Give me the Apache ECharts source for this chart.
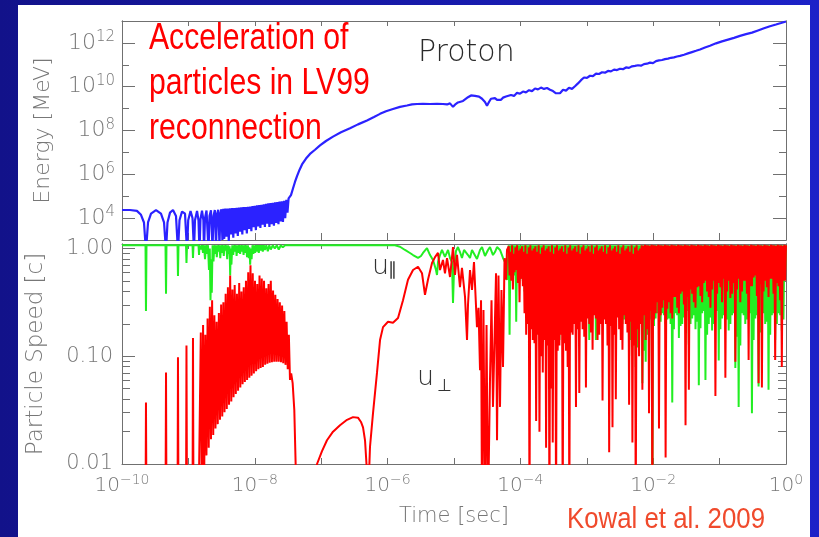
<!DOCTYPE html>
<html><head><meta charset="utf-8">
<script src="https://cdn.jsdelivr.net/npm/echarts@6.0.0/dist/echarts.min.js"></script>
<style>html,body{margin:0;padding:0;background:#fff}#c{width:819px;height:537px}</style>
</head><body><div id="c"></div>
<script>
// ---- tick values ----
const timeTicks = [1e-10,1e-9,1e-8,1e-7,1e-6,1e-5,1e-4,1e-3,1e-2,1e-1,1];
const timeLabelTicks = [1e-10,1e-8,1e-6,1e-4,1e-2,1];
const energyMajor = [1e4,1e6,1e8,1e10,1e12];
const energyMinor = [1e5,1e7,1e9,1e11];
const speedMajor = [0.01,0.1,1];
const speedMinor = [0.02,0.03,0.04,0.05,0.06,0.07,0.08,0.09,0.2,0.3,0.4,0.5,0.6,0.7,0.8,0.9];

// ---- data: [log10(time/s), log10(value)] ----
// proton energy [MeV]
const energyLog = [
[-10.000,4.37],[-9.880,4.37],[-9.775,4.33],[-9.714,4.15],[-9.669,3.80],[-9.639,2.50],[-9.608,3.80],[-9.563,4.20],[-9.488,4.36],[-9.413,4.20],[-9.367,3.80],[-9.337,2.50],[-9.315,3.80],[-9.277,4.25],[-9.232,4.37],[-9.187,4.10],[-9.157,2.50],[-9.134,3.90],[-9.096,4.30],[-9.051,4.20],[-9.021,2.50],[-9.003,3.90],[-8.968,4.32],[-8.938,4.00],[-8.916,2.50],[-8.901,3.90],[-8.870,4.33],[-8.848,3.90],[-8.833,2.50],[-8.818,3.95],[-8.795,4.34],[-8.774,3.90],[-8.765,2.50],[-8.750,4.00],[-8.727,4.35],[-8.697,2.50],[-8.682,4.10],[-8.660,4.36],[-8.637,2.60],[-8.622,4.10],[-8.602,4.37],[-8.584,2.70],[-8.569,4.20],[-8.550,4.38],[-8.532,2.80],[-8.518,4.20],[-8.503,4.40],[-8.488,3.00],[-8.473,4.42],
[-8.460,3.05],[-8.443,4.44],[-8.426,3.15],[-8.409,4.44],[-8.392,2.95],[-8.375,4.45],[-8.358,3.25],[-8.341,4.46],[-8.324,3.10],[-8.307,4.46],[-8.290,3.30],[-8.273,4.47],[-8.256,3.18],[-8.239,4.48],[-8.222,3.38],[-8.205,4.49],[-8.188,3.25],[-8.171,4.50],[-8.154,3.45],[-8.137,4.51],[-8.120,3.30],[-8.103,4.52],[-8.086,3.50],[-8.069,4.53],[-8.052,3.40],[-8.035,4.55],[-8.018,3.58],[-8.001,4.56],[-7.984,3.45],[-7.967,4.58],[-7.950,3.62],[-7.933,4.59],[-7.916,3.55],[-7.899,4.61],[-7.882,3.70],[-7.865,4.63],[-7.848,3.60],[-7.831,4.65],[-7.814,3.75],[-7.797,4.67],[-7.780,3.60],[-7.763,4.69],[-7.746,3.72],[-7.729,4.70],[-7.712,3.65],[-7.695,4.72],[-7.678,3.78],[-7.661,4.73],[-7.644,3.72],[-7.627,4.75],[-7.610,3.85],[-7.593,4.77],[-7.576,3.82],[-7.559,4.79],[-7.542,4.00],[-7.525,4.83],[-7.508,4.25],[-7.491,4.90],
[-7.470,4.95],[-7.455,5.05],[-7.425,5.35],[-7.395,5.65],[-7.364,5.92],[-7.327,6.20],[-7.289,6.45],[-7.229,6.72],[-7.169,6.93],[-7.093,7.12],[-7.018,7.32],[-6.928,7.52],[-6.822,7.72],[-6.702,7.92],[-6.566,8.10],[-6.446,8.28],[-6.310,8.46],[-6.205,8.62],[-6.114,8.76],[-6.024,8.88],[-5.919,8.98],[-5.813,9.08],[-5.708,9.14],[-5.633,9.19],[-5.557,9.21],[-5.467,9.22],[-5.361,9.21],[-5.256,9.22],[-5.166,9.21],[-5.105,9.19],[-5.060,9.24],[-5.015,9.08],[-4.985,9.18],[-4.940,9.28],[-4.864,9.35],[-4.789,9.52],[-4.744,9.60],[-4.684,9.58],[-4.623,9.55],[-4.578,9.45],[-4.533,9.30],[-4.503,9.13],[-4.473,9.30],[-4.443,9.45],[-4.413,9.38],[-4.383,9.48],[-4.352,9.40],[-4.322,9.44],[-4.292,9.40],
[-4.262,9.50],[-4.217,9.55],[-4.187,9.50],[-4.142,9.62],[-4.096,9.58],[-4.051,9.72],[-4.006,9.68],[-3.961,9.78],[-3.916,9.74],[-3.870,9.84],[-3.825,9.80],[-3.780,9.92],[-3.735,9.88],[-3.690,9.96],[-3.645,9.90],[-3.599,9.94],[-3.554,9.86],[-3.509,9.80],[-3.464,9.70],[-3.434,9.76],[-3.404,9.70],[-3.358,9.86],[-3.313,9.82],[-3.268,9.95],[-3.223,9.90],[-3.178,10.02],[-3.133,10.15],[-3.087,10.30],[-3.042,10.42],[-2.997,10.40],[-2.952,10.50],[-2.907,10.48],[-2.861,10.60],[-2.816,10.58],[-2.771,10.66],[-2.726,10.64],[-2.681,10.72],[-2.636,10.70],[-2.590,10.78],[-2.545,10.76],[-2.500,10.82],[-2.455,10.80],[-2.410,10.88],[-2.364,10.86],[-2.319,10.93],[-2.274,10.95],[-2.229,10.98],[-2.184,10.96],[-2.139,11.03],[-2.093,11.05],[-2.048,11.10],[-2.003,11.08],[-1.958,11.17],[-1.913,11.20],[-1.867,11.22],[-1.822,11.26],[-1.777,11.28],[-1.732,11.32],[-1.687,11.34],[-1.642,11.38],[-1.596,11.41],[-1.536,11.46],[-1.476,11.52],[-1.416,11.58],[-1.355,11.64],[-1.295,11.70],[-1.220,11.79],[-1.145,11.87],[-1.054,11.98],[-0.964,12.07],[-0.873,12.15],[-0.783,12.23],[-0.693,12.32],[-0.602,12.40],[-0.512,12.47],[-0.422,12.57],[-0.331,12.67],[-0.241,12.76],[-0.151,12.84],[-0.075,12.91],[0.000,12.98]
];

// parallel speed u_par [c]
const uParLog = [
[-10.000,0.03],[-9.646,0.03],[-9.639,-0.58],[-9.631,0.03],[-9.345,0.03],[-9.337,-0.42],[-9.330,0.03],[-9.164,0.03],[-9.157,-0.255],[-9.149,0.03],[-9.036,0.03],[-9.029,-0.135],[-9.021,0.03],[-8.938,0.03],[-8.931,-0.088],[-8.923,0.03],[-8.848,0.03],[-8.840,-0.06],[-8.833,0.03],
[-8.810,-0.01],[-8.795,0.03],[-8.780,-0.04],[-8.765,0.03],[-8.750,-0.10],[-8.735,0.03],[-8.720,-0.05],[-8.705,0.03],[-8.690,-0.20],[-8.678,0.00],[-8.667,-0.48],[-8.657,-0.10],[-8.648,-0.41],[-8.636,0.03],[-8.622,-0.12],[-8.610,0.03],[-8.596,-0.05],[-8.584,0.03],[-8.572,-0.08],[-8.559,0.03],[-8.545,-0.03],[-8.533,0.03],[-8.520,-0.09],[-8.506,0.03],[-8.494,-0.04],[-8.480,0.03],[-8.467,-0.07],[-8.455,0.03],[-8.441,-0.02],[-8.428,0.03],[-8.416,-0.10],[-8.402,0.03],[-8.389,-0.05],[-8.380,0.02],[-8.371,-0.25],[-8.362,0.00],[-8.352,-0.15],[-8.339,0.03],[-8.325,-0.06],[-8.313,0.03],[-8.300,-0.03],[-8.286,0.03],[-8.274,-0.07],[-8.261,0.03],[-8.247,-0.04],[-8.235,0.03],[-8.221,-0.05],[-8.208,0.03],[-8.196,-0.03],[-8.182,0.03],[-8.169,-0.06],[-8.157,0.03],[-8.143,-0.04],[-8.130,0.03],[-8.117,-0.08],[-8.104,0.03],[-8.091,-0.09],[-8.080,0.01],[-8.070,-0.15],[-8.059,0.00],[-8.048,-0.10],[-8.035,0.03],[-8.021,-0.05],[-8.009,0.03],[-7.995,-0.04],[-7.982,0.03],[-7.969,-0.03],[-7.955,0.03],[-7.940,-0.04],[-7.925,0.03],[-7.910,-0.02],[-7.895,0.03],[-7.880,-0.03],[-7.864,0.03],[-7.849,-0.015],[-7.827,0.03],[-7.804,-0.025],[-7.782,0.03],[-7.759,-0.01],[-7.729,0.03],[-7.699,0.00],[-7.669,0.03],[-7.639,-0.01],[-7.608,0.03],[-7.578,0.01],[-7.545,0.03],[-7.515,0.015],[-7.470,0.03],
[-5.889,0.03],
[-5.813,0.016],[-5.738,-0.014],[-5.663,-0.042],[-5.617,-0.061],[-5.542,-0.088],[-5.497,-0.07],[-5.467,-0.042],[-5.407,0.004],[-5.361,-0.061],[-5.316,-0.107],[-5.271,-0.20],[-5.256,-0.246],[-5.241,-0.126],[-5.211,-0.061],[-5.181,-0.014],[-5.136,-0.079],[-5.090,-0.014],[-5.060,-0.088],[-5.030,-0.126],[-5.015,-0.506],[-5.000,-0.20],[-4.970,-0.023],[-4.940,0.013],[-4.910,-0.033],[-4.880,-0.088],[-4.849,-0.014],[-4.834,0.004],[-4.789,-0.061],[-4.759,-0.088],[-4.729,-0.014],[-4.699,0.004],[-4.654,-0.098],[-4.608,-0.014],[-4.578,0.013],[-4.533,-0.07],[-4.488,-0.014],[-4.458,0.013],[-4.413,-0.061],[-4.383,-0.033],[-4.352,0.013],[-4.307,-0.014],[-4.262,-0.088],[-4.232,-0.126],[-4.202,-0.293],
[-4.175,0.03],[-4.163,-0.80],[-4.150,0.03],[-4.138,-0.20],[-4.125,0.03],[-4.113,-0.15],[-4.100,0.03],[-4.088,-0.25],
[-4.075,0.03],[-4.063,-0.68],[-4.050,0.03],[-4.038,-0.18],[-4.025,0.03],[-4.013,-0.20],[-4.000,0.03],[-3.988,-0.28],
[-3.975,0.03],[-3.963,-0.30],[-3.950,0.03],[-3.938,-0.40],[-3.925,0.03],[-3.913,-0.45],[-3.900,0.03],[-3.888,-0.50],
[-3.875,0.03],[-3.863,-0.35],[-3.850,0.03],[-3.838,-0.45],[-3.825,0.03],[-3.813,-0.50],[-3.800,0.03],[-3.788,-0.55],
[-3.775,0.03],[-3.763,-0.40],[-3.750,0.03],[-3.738,-0.48],[-3.725,0.03],[-3.713,-0.55],[-3.700,0.03],[-3.688,-0.52],
[-3.675,0.03],[-3.663,-0.45],[-3.650,0.03],[-3.638,-0.58],[-3.625,0.03],[-3.613,-0.60],[-3.600,0.03],[-3.588,-0.50],
[-3.575,0.03],[-3.563,-0.50],[-3.550,0.03],[-3.538,-0.62],[-3.525,0.03],[-3.513,-0.55],[-3.500,0.03],[-3.488,-0.55],
[-3.475,0.03],[-3.463,-0.70],[-3.450,0.03],[-3.438,-0.65],[-3.425,0.03],[-3.413,-0.85],[-3.400,0.03],[-3.388,-0.72],
[-3.375,0.03],[-3.363,-0.75],[-3.350,0.03],[-3.338,-0.80],[-3.325,0.03],[-3.313,-0.88],[-3.300,0.03],[-3.288,-0.70],
[-3.275,0.03],[-3.263,-0.94],[-3.250,0.03],[-3.238,-0.66],[-3.225,0.03],[-3.213,-0.60],[-3.200,0.03],[-3.188,-0.55],
[-3.175,0.03],[-3.163,-0.50],[-3.150,0.03],[-3.138,-0.58],[-3.125,0.03],[-3.113,-0.55],[-3.100,0.03],[-3.088,-0.52],
[-3.075,0.03],[-3.063,-0.60],[-3.050,0.03],[-3.038,-0.62],[-3.025,0.03],[-3.013,-0.50],[-3.000,0.03],[-2.988,-0.56],
[-2.975,0.03],[-2.963,-0.85],[-2.950,0.03],[-2.938,-0.70],[-2.925,0.03],[-2.913,-0.55],[-2.900,0.03],[-2.888,-0.60],
[-2.875,0.03],[-2.863,-0.85],[-2.850,0.03],[-2.838,-0.72],[-2.825,0.03],[-2.813,-0.50],[-2.800,0.03],[-2.788,-0.55],
[-2.775,0.03],[-2.763,-0.60],[-2.750,0.03],[-2.738,-0.62],[-2.725,0.03],[-2.713,-0.55],[-2.700,0.03],[-2.688,-0.58],
[-2.675,0.03],[-2.663,-0.65],[-2.650,0.03],[-2.638,-0.60],[-2.625,0.03],[-2.613,-0.50],[-2.600,0.03],[-2.588,-0.55],
[-2.575,0.03],[-2.563,-0.60],[-2.550,0.03],[-2.538,-0.62],[-2.525,0.03],[-2.513,-0.55],[-2.500,0.03],[-2.488,-0.58],
[-2.475,0.03],[-2.463,-0.70],[-2.450,0.03],[-2.438,-0.66],[-2.425,0.03],[-2.413,-0.60],[-2.400,0.03],[-2.388,-0.62],
[-2.375,0.03],[-2.363,-1.00],[-2.350,0.03],[-2.338,-0.85],[-2.325,0.03],[-2.313,-0.90],[-2.300,0.03],[-2.288,-0.78],
[-2.275,0.03],[-2.263,-1.10],[-2.250,0.03],[-2.238,-0.92],[-2.225,0.03],[-2.213,-0.80],[-2.200,0.03],[-2.188,-0.70],
[-2.175,0.03],[-2.163,-1.25],[-2.150,0.03],[-2.138,-0.95],[-2.125,0.03],[-2.113,-1.05],[-2.100,0.03],[-2.088,-0.80],
[-2.075,0.03],[-2.063,-0.70],[-2.050,0.03],[-2.038,-0.66],[-2.025,0.03],[-2.013,-2.50],[-2.000,0.03],[-1.988,-0.72],
[-1.975,0.03],[-1.963,-0.65],[-1.950,0.03],[-1.938,-0.60],[-1.925,0.03],[-1.913,-0.75],[-1.900,0.03],[-1.888,-0.68],
[-1.875,0.03],[-1.863,-0.60],[-1.850,0.03],[-1.838,-0.62],[-1.825,0.03],[-1.813,-0.70],[-1.800,0.03],[-1.788,-0.66],
[-1.775,0.03],[-1.763,-0.65],[-1.750,0.03],[-1.738,-0.70],[-1.725,0.03],[-1.713,-1.43],[-1.700,0.03],[-1.688,-0.75],
[-1.675,0.03],[-1.663,-0.60],[-1.650,0.03],[-1.638,-0.62],[-1.625,0.03],[-1.613,-0.83],[-1.600,0.03],[-1.588,-0.72],
[-1.575,0.03],[-1.563,-0.70],[-1.550,0.03],[-1.538,-0.64],[-1.525,0.03],[-1.513,-0.60],[-1.500,0.03],[-1.488,-0.58],
[-1.475,0.03],[-1.463,-0.89],[-1.450,0.03],[-1.438,-0.70],[-1.425,0.03],[-1.413,-0.65],[-1.400,0.03],[-1.388,-0.62],
[-1.375,0.03],[-1.363,-0.75],[-1.350,0.03],[-1.338,-0.68],[-1.325,0.03],[-1.313,-1.27],[-1.300,0.03],[-1.288,-0.74],
[-1.275,0.03],[-1.263,-0.60],[-1.250,0.03],[-1.238,-0.58],[-1.225,0.03],[-1.213,-1.22],[-1.200,0.03],[-1.188,-0.80],
[-1.175,0.03],[-1.163,-0.70],[-1.150,0.03],[-1.138,-0.64],[-1.125,0.03],[-1.113,-0.76],[-1.100,0.03],[-1.088,-0.70],
[-1.075,0.03],[-1.063,-0.55],[-1.050,0.03],[-1.038,-0.58],[-1.025,0.03],[-1.013,-1.04],[-1.000,0.03],[-0.988,-0.75],
[-0.975,0.03],[-0.963,-0.65],[-0.950,0.03],[-0.938,-0.62],[-0.925,0.03],[-0.913,-0.60],[-0.900,0.03],[-0.888,-0.66],
[-0.875,0.03],[-0.863,-0.76],[-0.850,0.03],[-0.838,-0.70],[-0.825,0.03],[-0.813,-0.62],[-0.800,0.03],[-0.788,-0.60],
[-0.775,0.03],[-0.763,-1.11],[-0.750,0.03],[-0.738,-0.82],[-0.725,0.03],[-0.713,-1.47],[-0.700,0.03],[-0.688,-0.90],
[-0.675,0.03],[-0.663,-0.60],[-0.650,0.03],[-0.638,-0.62],[-0.625,0.03],[-0.613,-0.70],[-0.600,0.03],[-0.588,-0.66],
[-0.575,0.03],[-0.563,-0.55],[-0.550,0.03],[-0.538,-0.60],[-0.525,0.03],[-0.513,-1.53],[-0.500,0.03],[-0.488,-0.85],
[-0.475,0.03],[-0.463,-0.65],[-0.450,0.03],[-0.438,-0.62],[-0.425,0.03],[-0.413,-1.28],[-0.400,0.03],[-0.388,-0.78],
[-0.375,0.03],[-0.363,-0.60],[-0.350,0.03],[-0.338,-0.60],[-0.325,0.03],[-0.313,-0.70],[-0.300,0.03],[-0.288,-0.68],
[-0.275,0.03],[-0.263,-1.31],[-0.250,0.03],[-0.238,-0.80],[-0.225,0.03],[-0.213,-0.62],[-0.200,0.03],[-0.188,-0.60],
[-0.175,0.03],[-0.163,-0.85],[-0.150,0.03],[-0.138,-0.70],[-0.125,0.03],[-0.113,-0.60],[-0.100,0.03],[-0.088,-0.62],
[-0.075,0.03],[-0.063,-0.76],[-0.050,0.03],[-0.038,-0.66],[-0.025,0.03],[-0.013,-0.20],[0.000,0.03]
];

// perpendicular speed u_perp [c]
const uPerpLog = [
[-10.000,-2.5],[-9.646,-2.5],[-9.639,-1.43],[-9.631,-2.5],[-9.345,-2.5],[-9.337,-1.15],[-9.330,-2.5],[-9.164,-2.5],[-9.157,-1.01],[-9.149,-2.5],[-9.036,-2.5],[-9.029,-0.90],[-9.021,-2.5],[-8.938,-2.5],[-8.931,-0.83],[-8.923,-2.5],[-8.848,-2.5],
[-8.830,-2.5],[-8.813,-0.78],[-8.796,-2.5],[-8.779,-0.71],[-8.762,-2.1],[-8.745,-0.80],[-8.728,-1.92],[-8.711,-0.65],[-8.694,-1.85],[-8.677,-0.54],[-8.660,-1.77],[-8.643,-0.48],[-8.626,-1.73],[-8.609,-0.62],[-8.592,-1.67],[-8.575,-0.68],[-8.558,-1.63],[-8.541,-0.60],[-8.524,-1.59],[-8.507,-0.52],[-8.490,-1.56],[-8.473,-0.50],[-8.456,-1.52],[-8.439,-0.42],[-8.422,-1.49],[-8.405,-0.36],[-8.388,-1.45],[-8.371,-0.25],[-8.354,-1.42],[-8.337,-0.38],[-8.320,-1.38],[-8.303,-0.34],[-8.286,-1.35],[-8.269,-0.42],[-8.252,-1.32],[-8.235,-0.32],[-8.218,-1.29],[-8.201,-0.40],[-8.184,-1.26],[-8.167,-0.36],[-8.150,-1.24],[-8.133,-0.30],[-8.116,-1.22],[-8.099,-0.22],[-8.082,-1.20],[-8.065,-0.155],[-8.048,-1.18],[-8.031,-0.23],[-8.014,-1.16],[-7.997,-0.30],[-7.980,-1.14],[-7.963,-0.33],[-7.946,-1.12],[-7.929,-0.25],[-7.912,-1.11],[-7.895,-0.28],[-7.878,-1.10],[-7.861,-0.30],[-7.844,-1.08],[-7.827,-0.37],[-7.810,-1.07],[-7.793,-0.33],[-7.776,-1.06],[-7.759,-0.30],[-7.742,-1.055],[-7.725,-0.39],[-7.708,-1.05],[-7.691,-0.43],[-7.674,-1.05],[-7.657,-0.47],[-7.640,-1.05],[-7.623,-0.50],[-7.606,-1.055],[-7.589,-0.53],[-7.572,-1.065],[-7.555,-0.58],[-7.538,-1.08],[-7.521,-0.68],[-7.504,-1.12],[-7.487,-0.80],
[-7.470,-1.22],[-7.452,-1.16],[-7.430,-1.25],[-7.405,-1.50],[-7.385,-2.0],[-7.370,-2.5],
[-7.139,-2.5],[-7.063,-2.0],[-6.988,-1.88],[-6.913,-1.78],[-6.822,-1.70],[-6.717,-1.64],[-6.611,-1.59],[-6.521,-1.565],[-6.446,-1.57],[-6.401,-1.61],[-6.370,-1.66],[-6.340,-1.78],[-6.318,-2.0],[-6.303,-2.5],
[-6.265,-1.84],[-6.220,-1.53],[-6.160,-1.155],[-6.114,-0.85],[-6.069,-0.73],[-5.994,-0.68],[-5.919,-0.69],[-5.843,-0.645],[-5.768,-0.48],[-5.693,-0.29],[-5.617,-0.20],[-5.542,-0.17],[-5.482,-0.23],[-5.437,-0.43],[-5.392,-0.29],[-5.331,-0.135],[-5.286,-0.08],[-5.241,-0.04],[-5.211,-0.20],[-5.166,-0.107],[-5.136,-0.23],[-5.105,-0.09],[-5.060,-0.265],[-5.015,0.013],[-4.985,-0.246],[-4.955,-0.06],[-4.910,-0.36],[-4.880,-0.18],[-4.834,-0.45],[-4.804,-0.85],[-4.789,-0.52],[-4.759,-0.20],[-4.729,-0.385],[-4.699,-0.126],[-4.654,-0.73],[-4.631,-0.55],[-4.608,-1.13],[-4.593,-0.48],[-4.578,-2.5],[-4.556,-0.57],[-4.533,-2.5],[-4.510,-0.71],[-4.488,-2.5],[-4.458,-1.22],[-4.435,-0.48],[-4.413,-1.47],[-4.390,-0.85],[-4.367,-0.23],[-4.352,-1.78],[-4.330,-0.25],[-4.307,-1.47],[-4.285,-0.385],[-4.262,-1.10],[-4.239,-0.09],[-4.217,-0.29],[-4.202,-0.014],
[-4.175,0.02],[-4.163,-0.25],[-4.150,-0.03],[-4.138,-0.30],[-4.125,0.03],[-4.113,-0.38],[-4.100,-0.05],[-4.088,-0.22],
[-4.075,0.01],[-4.063,-0.20],[-4.050,0.03],[-4.038,-0.32],[-4.025,-0.02],[-4.013,-0.50],[-4.000,0.00],[-3.988,-0.28],
[-3.975,0.02],[-3.963,-0.35],[-3.950,-0.03],[-3.938,-0.60],[-3.925,0.03],[-3.913,-0.80],[-3.900,-0.05],[-3.888,-0.70],
[-3.875,0.01],[-3.863,-2.50],[-3.850,0.03],[-3.838,-0.75],[-3.825,-0.02],[-3.813,-0.85],[-3.800,0.00],[-3.788,-0.88],
[-3.775,0.02],[-3.763,-1.60],[-3.750,-0.03],[-3.738,-0.80],[-3.725,0.03],[-3.713,-1.70],[-3.700,-0.05],[-3.688,-1.00],
[-3.675,0.01],[-3.663,-1.15],[-3.650,0.03],[-3.638,-0.85],[-3.625,-0.02],[-3.613,-1.85],[-3.600,0.00],[-3.588,-0.90],
[-3.575,0.02],[-3.563,-2.50],[-3.550,-0.03],[-3.538,-1.30],[-3.525,0.03],[-3.513,-1.80],[-3.500,-0.05],[-3.488,-0.85],
[-3.475,0.01],[-3.463,-2.50],[-3.450,0.03],[-3.438,-0.95],[-3.425,-0.02],[-3.413,-0.90],[-3.400,0.00],[-3.388,-0.80],
[-3.375,0.02],[-3.363,-2.50],[-3.350,-0.03],[-3.338,-0.88],[-3.325,0.03],[-3.313,-0.95],[-3.300,-0.05],[-3.288,-1.10],
[-3.275,0.01],[-3.263,-2.50],[-3.250,0.03],[-3.238,-0.78],[-3.225,-0.02],[-3.213,-0.80],[-3.200,0.00],[-3.188,-0.70],
[-3.175,0.02],[-3.163,-1.47],[-3.150,-0.03],[-3.138,-0.75],[-3.125,0.03],[-3.113,-1.34],[-3.100,-0.05],[-3.088,-0.68],
[-3.075,0.01],[-3.063,-0.75],[-3.050,0.03],[-3.038,-0.82],[-3.025,-0.02],[-3.013,-1.29],[-3.000,0.00],[-2.988,-0.65],
[-2.975,0.02],[-2.963,-0.70],[-2.950,-0.03],[-2.938,-0.78],[-2.925,0.03],[-2.913,-0.94],[-2.900,-0.05],[-2.888,-0.62],
[-2.875,0.01],[-2.863,-0.65],[-2.850,0.03],[-2.838,-0.85],[-2.825,-0.02],[-2.813,-0.80],[-2.800,0.00],[-2.788,-0.70],
[-2.775,0.02],[-2.763,-1.41],[-2.750,-0.03],[-2.738,-0.66],[-2.725,0.03],[-2.713,-0.70],[-2.700,-0.05],[-2.688,-0.90],
[-2.675,0.01],[-2.663,-1.89],[-2.650,0.03],[-2.638,-0.72],[-2.625,-0.02],[-2.613,-1.66],[-2.600,0.00],[-2.588,-0.80],
[-2.575,0.02],[-2.563,-1.40],[-2.550,-0.03],[-2.538,-0.64],[-2.525,0.03],[-2.513,-0.75],[-2.500,-0.05],[-2.488,-0.85],
[-2.475,0.01],[-2.463,-0.94],[-2.450,0.03],[-2.438,-0.62],[-2.425,-0.02],[-2.413,-0.70],[-2.400,0.00],[-2.388,-0.78],
[-2.375,0.02],[-2.363,-1.45],[-2.350,-0.03],[-2.338,-0.68],[-2.325,0.03],[-2.313,-1.80],[-2.300,-0.05],[-2.288,-0.90],
[-2.275,0.01],[-2.263,-2.50],[-2.250,0.03],[-2.238,-0.75],[-2.225,-0.02],[-2.213,-1.00],[-2.200,0.00],[-2.188,-0.70],
[-2.175,0.03],[-2.163,-1.31],[-2.150,0.025],[-2.138,-0.62],[-2.125,0.035],[-2.113,-0.85],[-2.100,0.03],[-2.088,-0.75],
[-2.075,0.03],[-2.063,-1.53],[-2.050,0.025],[-2.038,-0.58],[-2.025,0.035],[-2.013,-2.50],[-2.000,0.03],[-1.988,-0.66],
[-1.975,0.03],[-1.963,-0.60],[-1.950,0.025],[-1.938,-0.50],[-1.925,0.035],[-1.913,-1.67],[-1.900,0.03],[-1.888,-0.62],
[-1.875,0.03],[-1.863,-0.55],[-1.850,0.025],[-1.838,-0.48],[-1.825,0.035],[-1.813,-1.94],[-1.800,0.03],[-1.788,-0.56],
[-1.775,0.03],[-1.763,-0.50],[-1.750,0.025],[-1.738,-0.60],[-1.725,0.035],[-1.713,-0.65],[-1.700,0.03],[-1.688,-0.45],
[-1.675,0.03],[-1.663,-0.45],[-1.650,0.025],[-1.638,-0.55],[-1.625,0.035],[-1.613,-0.60],[-1.600,0.03],[-1.588,-0.42],
[-1.575,0.03],[-1.563,-0.40],[-1.550,0.025],[-1.538,-0.52],[-1.525,0.035],[-1.513,-1.64],[-1.500,0.03],[-1.488,-0.45],
[-1.475,0.03],[-1.463,-1.31],[-1.450,0.025],[-1.438,-0.38],[-1.425,0.035],[-1.413,-0.42],[-1.400,0.03],[-1.388,-0.50],
[-1.375,0.03],[-1.363,-0.55],[-1.350,0.025],[-1.338,-0.36],[-1.325,0.035],[-1.313,-0.35],[-1.300,0.03],[-1.288,-0.44],
[-1.275,0.03],[-1.263,-0.50],[-1.250,0.025],[-1.238,-0.32],[-1.225,0.035],[-1.213,-0.30],[-1.200,0.03],[-1.188,-0.40],
[-1.175,0.03],[-1.163,-0.45],[-1.150,0.025],[-1.138,-0.55],[-1.125,0.035],[-1.113,-0.38],[-1.100,0.03],[-1.088,-0.30],
[-1.075,0.03],[-1.063,-1.37],[-1.050,0.025],[-1.038,-0.42],[-1.025,0.035],[-1.013,-0.32],[-1.000,0.03],[-0.988,-0.36],
[-0.975,0.03],[-0.963,-0.50],[-0.950,0.025],[-0.938,-0.28],[-0.925,0.035],[-0.913,-1.20],[-0.900,0.03],[-0.888,-0.40],
[-0.875,0.03],[-0.863,-0.30],[-0.850,0.025],[-0.838,-0.46],[-0.825,0.035],[-0.813,-0.42],[-0.800,0.03],[-0.788,-0.32],
[-0.775,0.03],[-0.763,-1.05],[-0.750,0.025],[-0.738,-0.38],[-0.725,0.035],[-0.713,-0.28],[-0.700,0.03],[-0.688,-0.50],
[-0.675,0.03],[-0.663,-0.40],[-0.650,0.025],[-0.638,-0.30],[-0.625,0.035],[-0.613,-0.30],[-0.600,0.03],[-0.588,-0.42],
[-0.575,0.03],[-0.563,-1.035],[-0.550,0.025],[-0.538,-0.35],[-0.525,0.035],[-0.513,-0.35],[-0.500,0.03],[-0.488,-0.27],
[-0.475,0.03],[-0.463,-0.25],[-0.450,0.025],[-0.438,-0.44],[-0.425,0.035],[-0.413,-1.25],[-0.400,0.03],[-0.388,-0.33],
[-0.375,0.03],[-0.363,-1.29],[-0.350,0.025],[-0.338,-0.40],[-0.325,0.035],[-0.313,-0.30],[-0.300,0.03],[-0.288,-0.36],
[-0.275,0.03],[-0.263,-0.45],[-0.250,0.025],[-0.238,-0.28],[-0.225,0.035],[-0.213,-0.28],[-0.200,0.03],[-0.188,-0.42],
[-0.175,0.03],[-0.163,-1.035],[-0.150,0.025],[-0.138,-0.32],[-0.125,0.035],[-0.113,-0.35],[-0.100,0.03],[-0.088,-0.48],
[-0.075,0.03],[-0.063,-1.10],[-0.050,0.025],[-0.038,-0.30],[-0.025,0.035],[-0.013,-0.30],[0.000,0.03]
];

// ---- build chart ----
const FONT = 'DejaVu Sans';
const GREY = '#777777';
const AX = '#707070';
const toPts = a => a.map(p => [Math.pow(10, p[0]), Math.pow(10, p[1])]);
const powLabel = v => { const e = Math.round(Math.log10(v)); return '{b|10}{s|' + (e < 0 ? '\u2212' : '') + Math.abs(e) + '}'; };
const richX = {
  b: {fontFamily: FONT, fontWeight: 200, fontSize: 20, color: GREY, lineHeight: 26},
  s: {fontFamily: FONT, fontWeight: 200, fontSize: 14, color: GREY, lineHeight: 18, verticalAlign: 'top'}
};
const richY = {
  b: {fontFamily: FONT, fontWeight: 200, fontSize: 22, color: GREY, lineHeight: 26},
  s: {fontFamily: FONT, fontWeight: 200, fontSize: 15, color: GREY, lineHeight: 18, verticalAlign: 'top'}
};
const axLine = {show: true, lineStyle: {color: AX, width: 1}};
const noSplit = {show: false};

function xAx(grid, pos, tickLen, label) {
  const a = {gridIndex: grid, type: 'log', logBase: 10, min: 1e-10, max: 1, position: pos,
    axisLine: axLine, splitLine: noSplit,
    axisTick: {show: true, inside: true, length: tickLen, customValues: timeTicks, lineStyle: {color: AX}},
    axisLabel: {show: false}};
  if (label) {
    a.axisLabel = {show: true, customValues: timeLabelTicks, formatter: powLabel, rich: richX, margin: 9};
    a.name = 'Time [sec]'; a.nameLocation = 'middle'; a.nameGap = 42;
    a.nameTextStyle = {fontFamily: FONT, fontWeight: 200, fontSize: 21, color: GREY};
  }
  return a;
}
function yAx(grid, pos, min, max, ticks, tickLen, extra) {
  return Object.assign({gridIndex: grid, type: 'log', logBase: 10, min: min, max: max, position: pos,
    axisLine: axLine, splitLine: noSplit,
    axisTick: {show: true, inside: true, length: tickLen, customValues: ticks, lineStyle: {color: AX}},
    axisLabel: {show: false}}, extra || {});
}

const chart = echarts.init(document.getElementById('c'), null, {renderer: 'canvas'});
chart.setOption({
  animation: false,
  grid: [
    {left: 122, top: 21, width: 664, height: 219},
    {left: 122, top: 244, width: 664, height: 220}
  ],
  xAxis: [xAx(0, 'bottom', 7, false), xAx(0, 'top', 5, false), xAx(1, 'bottom', 6, true), xAx(1, 'top', 5, false)],
  yAxis: [
    yAx(0, 'left', 1e3, 1e13, energyMajor, 13, {
      axisLabel: {show: true, customValues: energyMajor, formatter: powLabel, rich: richY, margin: 7},
      name: 'Energy [MeV]', nameLocation: 'middle', nameGap: 68,
      nameTextStyle: {fontFamily: FONT, fontWeight: 200, fontSize: 22, color: GREY}}),
    yAx(0, 'left', 1e3, 1e13, energyMinor, 7),
    yAx(0, 'right', 1e3, 1e13, energyMajor, 13),
    yAx(0, 'right', 1e3, 1e13, energyMinor, 7),
    yAx(1, 'left', 0.01, 1.1, speedMajor, 13, {
      axisLabel: {show: true, customValues: speedMajor, formatter: v => v.toFixed(2), margin: 9,
        fontFamily: FONT, fontWeight: 200, fontSize: 21, color: GREY},
      name: 'Particle Speed [c]', nameLocation: 'middle', nameGap: 74,
      nameTextStyle: {fontFamily: FONT, fontWeight: 200, fontSize: 23, color: GREY}}),
    yAx(1, 'left', 0.01, 1.1, speedMinor, 8),
    yAx(1, 'right', 0.01, 1.1, speedMajor, 13),
    yAx(1, 'right', 0.01, 1.1, speedMinor, 8)
  ],
  series: [
    {name: 'Proton energy', type: 'line', xAxisIndex: 0, yAxisIndex: 0, data: toPts(energyLog),
      symbol: 'none', clip: true, silent: true, lineStyle: {color: '#2b22ff', width: 2.2}},
    {name: 'u_par', type: 'line', xAxisIndex: 2, yAxisIndex: 4, data: toPts(uParLog),
      symbol: 'none', clip: true, silent: true, lineStyle: {color: '#22ee22', width: 2}},
    {name: 'u_perp', type: 'line', xAxisIndex: 2, yAxisIndex: 4, data: toPts(uPerpLog),
      symbol: 'none', clip: true, silent: true, lineStyle: {color: '#ff0000', width: 2}}
  ],
  graphic: [
    {type: 'rect', z: -20, silent: true, shape: {x: 0, y: 0, width: 819, height: 537},
      style: {fill: new echarts.graphic.LinearGradient(0, 0, 1, 0, [{offset: 0, color: '#12128a'}, {offset: 1, color: '#1c22c8'}])}},
    {type: 'rect', z: -10, silent: true, shape: {x: 18, y: 5, width: 792, height: 532}, style: {fill: '#ffffff'}},
    {type: 'text', x: 149, y: 16, scaleX: 0.815, z: 10, silent: true,
      style: {text: 'Acceleration of\nparticles in LV99\nreconnection', fontFamily: 'Liberation Sans', fontSize: 37,
        lineHeight: 45, fill: '#ff0000', align: 'left', verticalAlign: 'top'}},
    {type: 'text', x: 418, y: 38.5, z: 10, silent: true,
      style: {text: 'Proton', fontFamily: FONT, fontWeight: 200, fontSize: 30, lineHeight: 30, fill: '#2a2a2a', align: 'left', verticalAlign: 'top'}},
    {type: 'text', x: 372, y: 267, z: 10, silent: true,
      style: {text: 'u', fontFamily: FONT, fontWeight: 200, fontSize: 27, fill: '#333', align: 'left', verticalAlign: 'middle'}},
    {type: 'text', x: 388, y: 270, z: 10, silent: true,
      style: {text: '\u2225', fontFamily: FONT, fontWeight: 200, fontSize: 18, fill: '#333', align: 'left', verticalAlign: 'middle'}},
    {type: 'text', x: 417, y: 378, z: 10, silent: true,
      style: {text: 'u', fontFamily: FONT, fontWeight: 200, fontSize: 27, fill: '#333', align: 'left', verticalAlign: 'middle'}},
    {type: 'text', x: 437, y: 387, z: 10, silent: true,
      style: {text: '\u22A5', fontFamily: FONT, fontWeight: 200, fontSize: 17, fill: '#333', align: 'left', verticalAlign: 'middle'}},
    {type: 'text', x: 567, y: 520, scaleX: 0.89, z: 10, silent: true,
      style: {text: 'Kowal et al. 2009', fontFamily: 'Liberation Sans', fontSize: 29, fill: '#f04a2c', align: 'left', verticalAlign: 'middle'}}
  ]
});
</script></body></html>
